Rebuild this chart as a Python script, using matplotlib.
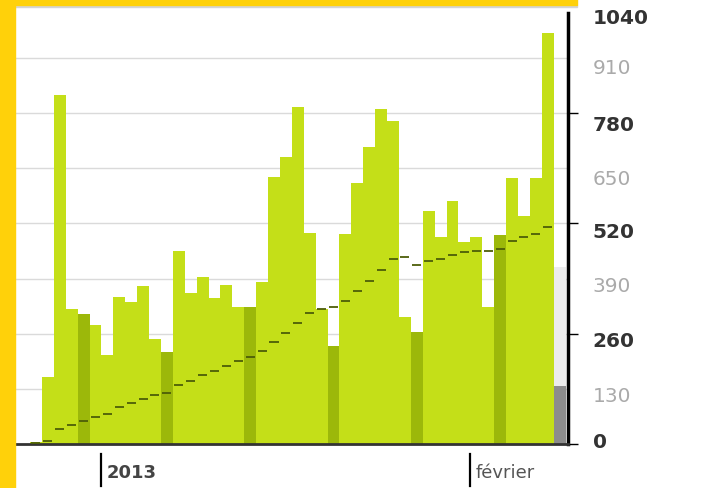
import numpy as np
import matplotlib.pyplot as plt
from matplotlib.patches import Rectangle
from matplotlib.transforms import ScaledTranslation, blended_transform_factory

# visites par jour, du 26 dec. 2012 au 7 fevr. 2013
visits = [4, 159, 823, 318, 307, 281, 210, 347, 335, 373, 248, 217, 455, 357,
          394, 344, 375, 323, 323, 382, 630, 677, 795, 498, 318, 232, 495, 616,
          700, 790, 762, 300, 264, 550, 488, 573, 476, 488, 323, 493, 627, 538,
          627, 969]
# moyenne (petits traits)
trend = [2, 6, 35, 45, 54, 64, 71, 88, 97, 106, 116, 120, 139, 149, 163, 173,
         184, 196, 206, 219, 240, 261, 285, 308, 318, 322, 338, 360, 385, 410,
         436, 440, 422, 431, 436, 446, 452, 456, 456, 460, 478, 488, 494, 512]
# jour en cours
today_value = 137
today_projection = 417
sundays = [4, 11, 18, 25, 32, 39]
month_ticks = [6, 37]
month_labels = ['2013', 'février']
y_ticks = [0, 130, 260, 390, 520, 650, 780, 910, 1040]

green = '#c4df18'
dark_green = '#9cb80a'
yellow = '#ffd10a'

fig = plt.figure(figsize=(7.04, 4.89), dpi=100)
fig.patch.set_facecolor('white')
ax = fig.add_axes([15/704, 44/489, 553/704, 442/489])

x = np.arange(len(visits))
colors = [dark_green if i in sundays else green for i in x]
ax.bar(x, visits, width=1, align='edge', color=colors, zorder=2)
ax.bar(len(visits), today_projection, width=1, align='edge', color='#ececec', zorder=2)
ax.bar(len(visits), today_value, width=1, align='edge', color='#8c8c8c', zorder=2)
ax.hlines(trend, x + 0.12, x + 0.88, color='#4d5e08', lw=1.3, zorder=3)

ax.set_xlim(-1.26, 45.2)
ax.set_ylim(0, 1042)
ax.set_facecolor('white')
ax.grid(axis='y', color='#dadada', lw=1)
ax.set_axisbelow(True)

for s in ['top', 'left']:
    ax.spines[s].set_visible(False)
ax.spines['bottom'].set_color('#333333')
ax.spines['bottom'].set_linewidth(2)
ax.spines['right'].set_color('black')
ax.spines['right'].set_linewidth(2.5)
ax.spines['right'].set_bounds(0, 1016)

# axe y a droite
ax.yaxis.tick_right()
ax.set_yticks(y_ticks, [str(v) for v in y_ticks])
ax.tick_params(axis='y', length=7, width=1, pad=10.8, labelsize=14.5)
offsets = [-4, 5, 5, 5, 6, 8, 9, 8, 13]
for i, (tick, lab) in enumerate(zip(ax.yaxis.get_major_ticks(), ax.get_yticklabels())):
    major = i % 2 == 0
    lab.set_fontweight('bold' if major else 'normal')
    lab.set_color('#333333' if major else '#aaaaaa')
    lab.set_transform(lab.get_transform() + ScaledTranslation(0, -offsets[i]/100, fig.dpi_scale_trans))
    tick.tick2line.set_color('black' if i == 0 else '#c8c8c8')
    tick.tick2line.set_visible(major and i != len(y_ticks) - 1)

# axe x
ax.set_xticks(month_ticks, month_labels)
ax.tick_params(axis='x', length=0, pad=13.7, labelsize=13)
for i, lab in enumerate(ax.get_xticklabels()):
    lab.set_ha('left')
    lab.set_fontweight('bold' if i == 0 else 'normal')
    lab.set_color('#444444' if i == 0 else '#555555')
    lab.set_transform(lab.get_transform() + ScaledTranslation(0.05, 0, fig.dpi_scale_trans))
trans = blended_transform_factory(ax.transData, ax.transAxes)
for p in month_ticks:
    ax.plot([p, p], [-0.022, -0.095], transform=trans, color='black', lw=1.6, clip_on=False)

# cadre jaune
fig.add_artist(Rectangle((0, 0), 15/704, 1, transform=fig.transFigure, color=yellow, zorder=10))
fig.add_artist(Rectangle((0, 1 - 6/489), 577/704, 6/489, transform=fig.transFigure, color=yellow, zorder=10))
fig.add_artist(Rectangle((15/704, 1 - 7.5/489), 562/704, 1.5/489, transform=fig.transFigure, color='#d4d4d4', zorder=9))

fig.savefig('out.png', dpi=100)
